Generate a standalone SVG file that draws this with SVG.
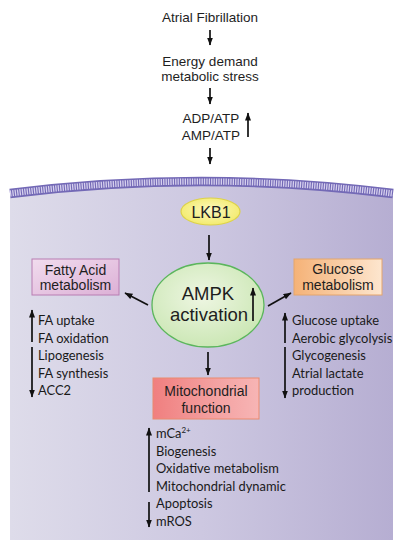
<svg xmlns="http://www.w3.org/2000/svg" width="403" height="550" viewBox="0 0 403 550">
<defs>
<style>
.t{font-family:"Liberation Sans",Arial,sans-serif;fill:#1e1e1e;text-anchor:middle}
.l{font-family:Lato,"Noto Sans",sans-serif;fill:#1a1a1a;font-size:12.9px}
.a{stroke:#111;stroke-width:1.7;fill:none;marker-end:url(#ah)}
</style>
<marker id="ah" markerUnits="userSpaceOnUse" markerWidth="10" markerHeight="10" refX="7.5" refY="3" orient="auto">
<path d="M0,0 L8,3 L0,6 Z" fill="#111"/>
</marker>
<linearGradient id="cell" x1="0" y1="0" x2="1" y2="0">
<stop offset="0" stop-color="#dedcea"/>
<stop offset="0.5" stop-color="#cdc8e1"/>
<stop offset="1" stop-color="#b6aed2"/>
</linearGradient>
<radialGradient id="lkb" cx="0.5" cy="0.45" r="0.6">
<stop offset="0" stop-color="#fbf8c0"/>
<stop offset="1" stop-color="#f3ea66"/>
</radialGradient>
<radialGradient id="ampk" cx="0.45" cy="0.4" r="0.65">
<stop offset="0" stop-color="#eef6e2"/>
<stop offset="1" stop-color="#c9e6b2"/>
</radialGradient>
<linearGradient id="fa" x1="0" y1="0" x2="1" y2="1">
<stop offset="0" stop-color="#f1dcee"/>
<stop offset="1" stop-color="#dcb0d6"/>
</linearGradient>
<linearGradient id="glu" x1="0" y1="0" x2="1" y2="0">
<stop offset="0" stop-color="#f5b277"/>
<stop offset="1" stop-color="#fde6cf"/>
</linearGradient>
<linearGradient id="mito" x1="0" y1="0" x2="1" y2="0">
<stop offset="0" stop-color="#f07f7f"/>
<stop offset="0.6" stop-color="#f4a2a2"/>
<stop offset="1" stop-color="#f7b5b5"/>
</linearGradient>
</defs>
<rect width="403" height="550" fill="#fff"/>
<g id="cell-body">
<path d="M10,196 Q201.5,172 393,196 L393,540 L10,540 Z" fill="url(#cell)"/>
<path d="M10,193.5 Q201.5,169.5 393,193.5" fill="none" stroke="#7369b6" stroke-width="9.5"/>
<path d="M10,193.5 Q201.5,169.5 393,193.5" fill="none" stroke="#d6d0ee" stroke-width="6.2" stroke-dasharray="1.3 1.1"/>
</g>
<g id="n-af"><text class="t" x="210" y="21.5" font-size="13.5">Atrial Fibrillation</text></g>
<g id="n-energy"><text class="t" x="210" y="65.5" font-size="13.5">Energy demand</text><text class="t" x="210" y="80.5" font-size="13.5">metabolic stress</text></g>
<g id="n-adp"><text class="t" x="211" y="123" font-size="13.5">ADP/ATP</text><text class="t" x="211" y="139.5" font-size="13.5">AMP/ATP</text></g>
<g id="n-lkb1"><ellipse cx="210.5" cy="211.5" rx="29.5" ry="13.5" fill="url(#lkb)" stroke="#ddd24a" stroke-width="1.2"/><text class="t" x="211" y="217.5" font-size="16">LKB1</text></g>
<g id="n-ampk"><ellipse cx="208" cy="305" rx="56" ry="42" fill="url(#ampk)" stroke="#5bb65c" stroke-width="1.3"/><text class="t" x="208" y="300" font-size="18.5">AMPK</text><text class="t" x="209" y="321" font-size="18.5">activation</text></g>
<g id="n-fa"><rect x="32" y="259" width="87" height="36" fill="url(#fa)" stroke="#b87db2" stroke-width="1"/><text class="t" x="75.5" y="274.5" font-size="14">Fatty Acid</text><text class="t" x="75.5" y="290" font-size="14">metabolism</text></g>
<g id="n-glu"><rect x="294" y="259" width="88" height="36" fill="url(#glu)" stroke="#e4a56c" stroke-width="1"/><text class="t" x="338" y="273.5" font-size="14">Glucose</text><text class="t" x="338" y="290" font-size="14">metabolism</text></g>
<g id="n-mito"><rect x="153" y="378" width="106" height="41" fill="url(#mito)" stroke="#ea8a6e" stroke-width="1"/><text class="t" x="206" y="396" font-size="14">Mitochondrial</text><text class="t" x="206" y="412.5" font-size="14">function</text></g>
<g id="n-fa-list">
<text class="l" x="38" y="325">FA uptake</text>
<text class="l" x="38" y="343">FA oxidation</text>
<text class="l" x="38" y="360">Lipogenesis</text>
<text class="l" x="38" y="377.5">FA synthesis</text>
<text class="l" x="38" y="395">ACC2</text>
</g>
<g id="n-glu-list">
<text class="l" x="292" y="325">Glucose uptake</text>
<text class="l" x="292" y="343">Aerobic glycolysis</text>
<text class="l" x="292" y="360">Glycogenesis</text>
<text class="l" x="292" y="377.5">Atrial lactate</text>
<text class="l" x="292" y="395">production</text>
</g>
<g id="n-mito-list">
<text class="l" x="156" y="438">mCa<tspan font-size="8" dy="-5">2+</tspan></text>
<text class="l" x="156" y="455.5">Biogenesis</text>
<text class="l" x="156" y="473">Oxidative metabolism</text>
<text class="l" x="156" y="490.5">Mitochondrial dynamic</text>
<text class="l" x="156" y="508">Apoptosis</text>
<text class="l" x="156" y="525.5">mROS</text>
</g>
<g id="connectors">
<line class="a" x1="210" y1="30" x2="210" y2="45"/>
<line class="a" x1="210" y1="88" x2="210" y2="104"/>
<line class="a" x1="210" y1="148" x2="210" y2="164"/>
<line class="a" x1="248" y1="137" x2="248" y2="113"/>
<line class="a" x1="209" y1="235" x2="209" y2="260"/>
<line class="a" x1="253" y1="321" x2="253" y2="288"/>
<line class="a" x1="148" y1="305" x2="125" y2="293"/>
<line class="a" x1="268" y1="306" x2="291" y2="293"/>
<line class="a" x1="208" y1="352" x2="208" y2="375"/>
<line class="a" x1="32" y1="342" x2="32" y2="310"/>
<line class="a" x1="32" y1="347" x2="32" y2="397"/>
<line class="a" x1="285" y1="343" x2="285" y2="313"/>
<line class="a" x1="285" y1="347" x2="285" y2="398"/>
<line class="a" x1="149" y1="492" x2="149" y2="428"/>
<line class="a" x1="149" y1="502" x2="149" y2="527"/>
</g>
</svg>
